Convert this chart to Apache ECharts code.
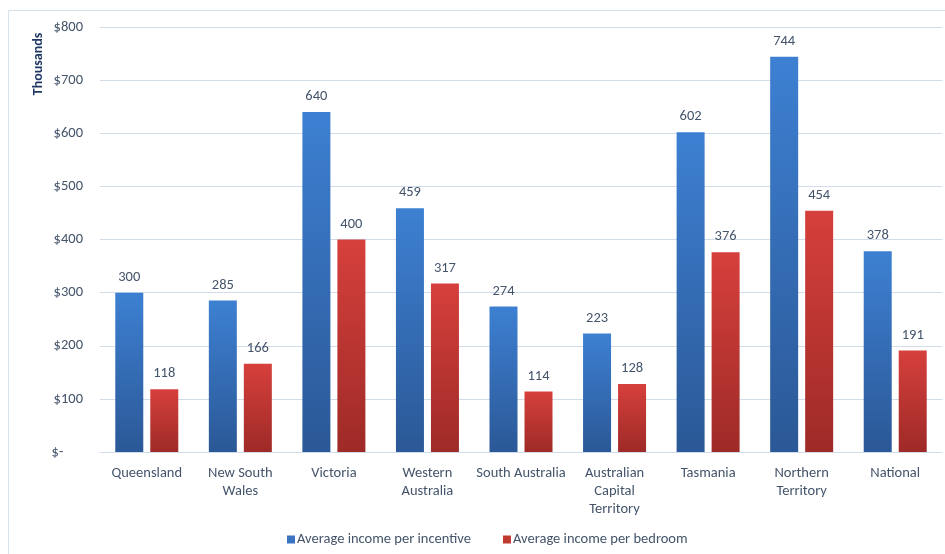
<!DOCTYPE html>
<html>
<head>
<meta charset="utf-8">
<script src="https://cdn.jsdelivr.net/npm/echarts@6/dist/echarts.min.js"></script>
<style>
  html, body { margin: 0; padding: 0; background: #fff; }
  #chart { width: 945px; height: 554px; }
</style>
</head>
<body>
<div id="chart"></div>
<script>
// categories and values (thousands of dollars)
var regions = ["Queensland", "New South\nWales", "Victoria", "Western\nAustralia", "South Australia",
  "Australian\nCapital\nTerritory", "Tasmania", "Northern\nTerritory", "National"];
var perIncentive = [300, 285, 640, 459, 274, 223, 602, 744, 378];
var perBedroom = [118, 166, 400, 317, 114, 128, 376, 454, 191];
var yTicks = [0, 100, 200, 300, 400, 500, 600, 700, 800];

var textColor = "#44546a";
var fontFam = "Carlito, Calibri, Lato, 'Open Sans', sans-serif";
var fs = 14.5;

function grad(top, bottom) {
  return new echarts.graphic.LinearGradient(0, 0, 0, 1, [
    { offset: 0, color: top },
    { offset: 1, color: bottom }
  ]);
}

var myChart = echarts.init(document.getElementById("chart"));
var option = {
  backgroundColor: "#fff",
  animation: false,
  textStyle: { fontFamily: fontFam },
  graphic: [
    {
      type: "rect",
      shape: { x: 8.5, y: 10.5, width: 940, height: 550 },
      style: { fill: "none", stroke: "#d6e1ee", lineWidth: 1 }
    },
    {
      type: "text",
      x: 38,
      y: 64,
      rotation: Math.PI / 2,
      style: {
        text: "Thousands",
        fill: "#1f3864",
        font: "bold 14px " + fontFam,
        align: "center",
        verticalAlign: "middle"
      }
    }
  ],
  legend: {
    bottom: 2,
    left: 282,
    itemWidth: 8,
    itemHeight: 8,
    itemGap: 32,
    icon: "rect",
    textStyle: { color: textColor, fontSize: fs, fontFamily: fontFam, padding: [0, 0, 0, -3] },
    data: [
      { name: "Average income per incentive", itemStyle: { color: "#3a73c0" } },
      { name: "Average income per bedroom", itemStyle: { color: "#c0392f" } }
    ]
  },
  grid: { left: 100, right: 3, top: 27, bottom: 102, containLabel: false },
  xAxis: {
    type: "category",
    data: regions,
    axisLine: { lineStyle: { color: "#d0dcea", width: 1 } },
    axisTick: { show: false },
    axisLabel: { color: textColor, fontSize: fs, lineHeight: 18, margin: 12, interval: 0 }
  },
  yAxis: {
    type: "value",
    min: yTicks[0],
    max: yTicks[yTicks.length - 1],
    interval: 100,
    axisLine: { show: false },
    axisTick: { show: false },
    splitLine: { lineStyle: { color: "#d0dcea", width: 1 } },
    axisLabel: {
      color: textColor,
      fontSize: fs,
      margin: 17,
      formatter: function (v) { return v === 0 ? "$-      " : "$" + v; }
    }
  },
  series: [
    {
      name: "Average income per incentive",
      type: "bar",
      data: perIncentive,
      barWidth: 28,
      barGap: "25%",
      itemStyle: { color: grad("#3d80d2", "#2b5896") },
      label: { show: true, position: "top", distance: 8, color: textColor, fontSize: fs }
    },
    {
      name: "Average income per bedroom",
      type: "bar",
      data: perBedroom,
      barWidth: 28,
      itemStyle: { color: grad("#d6403c", "#9e2a27") },
      label: { show: true, position: "top", distance: 8, color: textColor, fontSize: fs }
    }
  ]
};
myChart.setOption(option);
</script>
</body>
</html>
